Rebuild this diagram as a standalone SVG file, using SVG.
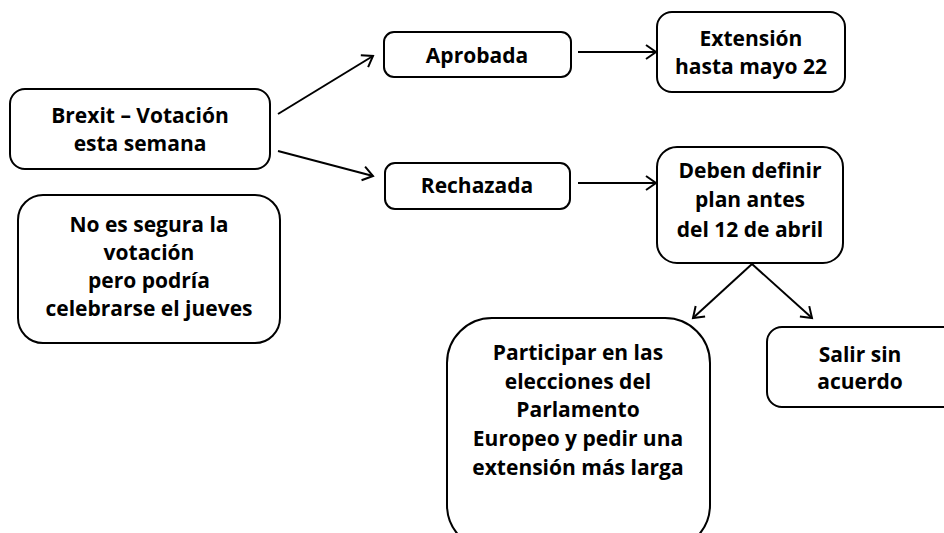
<svg xmlns="http://www.w3.org/2000/svg" width="944" height="533" viewBox="0 0 944 533">
<style>
.box{fill:#fff;stroke:#000;stroke-width:2}
.t{font-family:"Open Sans","Liberation Sans",sans-serif;font-weight:bold;font-size:21px;fill:#000;text-anchor:middle}
.c{fill:none;stroke:#000;stroke-width:2}
</style>
<defs>
<marker id="arr" markerUnits="userSpaceOnUse" markerWidth="20" markerHeight="20" refX="12" refY="8" orient="auto" viewBox="0 0 20 16">
<path d="M2,1 L12,8 L2,15" fill="none" stroke="#000" stroke-width="2"/>
</marker>
</defs>
<rect width="944" height="533" fill="#fff"/>
<g id="connectors">
<line class="c" x1="278" y1="114" x2="373" y2="56" marker-end="url(#arr)"/>
<line class="c" x1="278" y1="151" x2="373" y2="176" marker-end="url(#arr)"/>
<line class="c" x1="578" y1="52" x2="656" y2="52" marker-end="url(#arr)"/>
<line class="c" x1="578" y1="183" x2="656" y2="183" marker-end="url(#arr)"/>
<line class="c" x1="752" y1="264" x2="693" y2="318" marker-end="url(#arr)"/>
<line class="c" x1="752" y1="264" x2="812" y2="318" marker-end="url(#arr)"/>
</g>
<g id="brexit">
<rect class="box" x="10" y="89" width="260" height="80" rx="15"/>
<text class="t" x="140" y="123">Brexit – Votación</text>
<text class="t" x="140" y="151">esta semana</text>
</g>
<g id="noes">
<rect class="box" x="18" y="195" width="262" height="148" rx="25"/>
<text class="t" x="149" y="232">No es segura la</text>
<text class="t" x="149" y="260">votación</text>
<text class="t" x="149" y="288">pero podría</text>
<text class="t" x="149" y="316">celebrarse el jueves</text>
</g>
<g id="aprobada">
<rect class="box" x="384" y="32" width="187" height="45" rx="10"/>
<text class="t" x="477" y="63">Aprobada</text>
</g>
<g id="rechazada">
<rect class="box" x="385" y="163" width="185" height="46" rx="10"/>
<text class="t" x="477" y="193">Rechazada</text>
</g>
<g id="extension">
<rect class="box" x="657" y="12" width="188" height="80" rx="15"/>
<text class="t" x="751" y="46">Extensión</text>
<text class="t" x="751" y="74">hasta mayo 22</text>
</g>
<g id="deben">
<rect class="box" x="657" y="147" width="186" height="116" rx="20"/>
<text class="t" x="750" y="178">Deben definir</text>
<text class="t" x="750" y="207">plan antes</text>
<text class="t" x="750" y="237">del 12 de abril</text>
</g>
<g id="participar">
<rect class="box" x="447" y="318" width="263" height="232" rx="45"/>
<text class="t" x="578" y="360">Participar en las</text>
<text class="t" x="578" y="389">elecciones del</text>
<text class="t" x="578" y="417">Parlamento</text>
<text class="t" x="578" y="446">Europeo y pedir una</text>
<text class="t" x="578" y="475">extensión más larga</text>
</g>
<g id="salir">
<rect class="box" x="767" y="327" width="200" height="80" rx="15"/>
<text class="t" x="860" y="362">Salir sin</text>
<text class="t" x="860" y="389">acuerdo</text>
</g>
</svg>
